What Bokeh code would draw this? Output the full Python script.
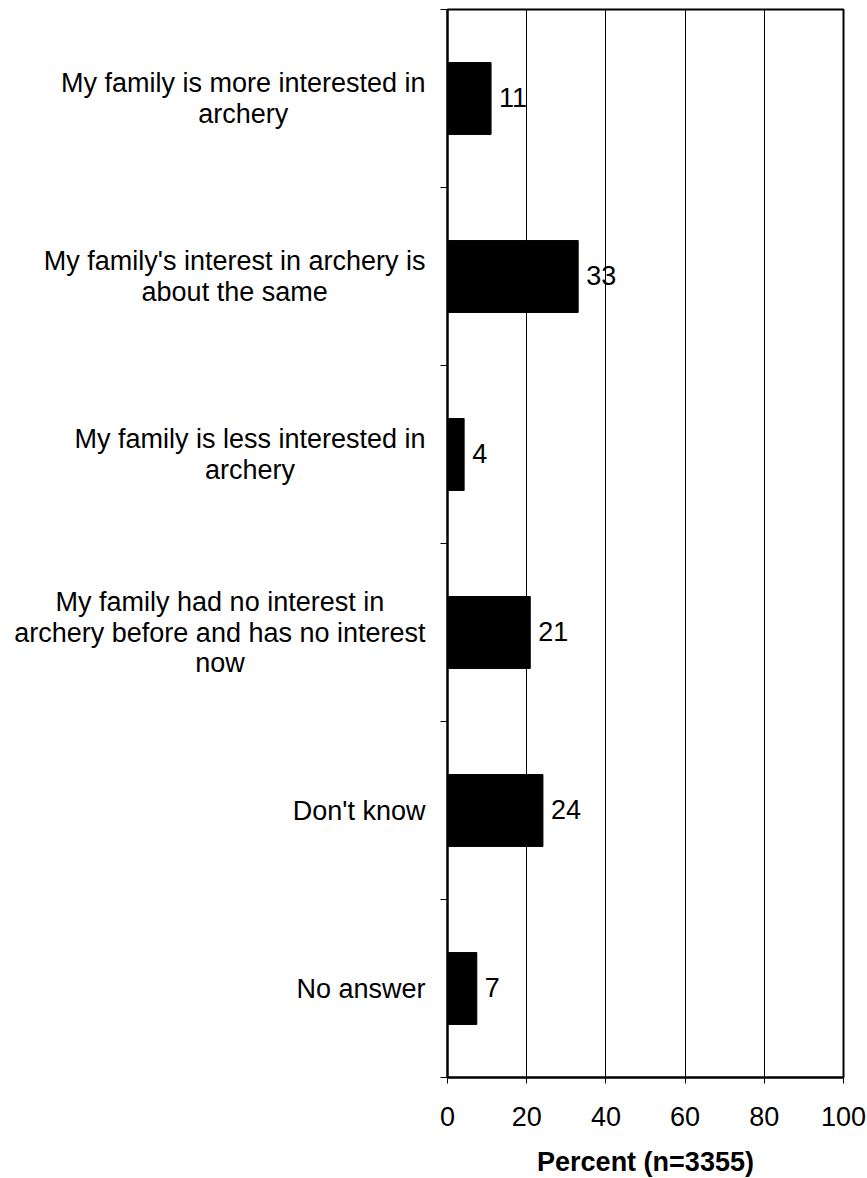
from bokeh.plotting import figure
from bokeh.layouts import row
from bokeh.models import Range1d, FixedTicker, ColumnDataSource
from bokeh.core.properties import value
from bokeh.embed import file_html
from bokeh.resources import INLINE

categories = [
    "My family is more interested in\narchery",
    "My family's interest in archery is\nabout the same",
    "My family is less interested in\narchery",
    "My family had no interest in\narchery before and has no interest\nnow",
    "Don't know",
    "No answer",
]
values = [11.0, 33.0, 4.2, 20.9, 24.1, 7.4]
x_ticks = [0, 20, 40, 60, 80, 100]
x_title = "Percent (n=3355)"

FONT = "Liberation Sans"
FS = 27
# Arial / Liberation Sans advance widths (per 1000 em) for width estimation
W = {" ": 278, "'": 191, "A": 667, "D": 722, "M": 833, "N": 722,
     "a": 556, "b": 556, "c": 500, "d": 556, "e": 556, "f": 278, "g": 556,
     "h": 556, "i": 222, "k": 500, "l": 222, "m": 833, "n": 556, "o": 556,
     "r": 333, "s": 500, "t": 278, "u": 556, "v": 500, "w": 722, "y": 500}

def text_w(s):
    return sum(W.get(c, 556) for c in s) / 1000.0 * FS

n = len(categories)
ypos = [i + 0.5 for i in range(n)]

FRAME_LEFT = 447
TOP = 9
AXIS_W = 14
LW = FRAME_LEFT - AXIS_W
FH = 1068
yr = Range1d(n, 0)

# main chart
p = figure(width=867 - LW, height=1178, output_backend="svg", toolbar_location=None,
           x_range=Range1d(0, 100), y_range=yr,
           frame_width=396, frame_height=FH,
           min_border_left=AXIS_W, min_border_right=24, min_border_top=TOP, min_border_bottom=10)
p.background_fill_color = "white"
p.border_fill_color = "white"
p.outline_line_color = "black"
p.outline_line_width = 2

src = ColumnDataSource(dict(y=ypos, v=values, lab=[str(int(round(v))) for v in values]))
p.hbar(y="y", left=0, right="v", height=0.404, source=src, fill_color="black", line_color="black")
p.text(x="v", y="y", text="lab", source=src, x_offset=8, y_offset=-1, text_align="left",
       text_baseline="middle", text_font_size=f"{FS}px", text_font=value(FONT), text_color="black")

p.ygrid.visible = False
p.xgrid.ticker = FixedTicker(ticks=x_ticks)
p.xgrid.grid_line_color = "black"
p.xgrid.grid_line_width = 1
p.xgrid.grid_line_alpha = 1.0

xa = p.xaxis[0]
xa.ticker = FixedTicker(ticks=x_ticks)
xa.axis_line_color = "black"
xa.axis_line_width = 2
xa.major_tick_out = 6
xa.major_tick_in = 0
xa.major_tick_line_color = "black"
xa.minor_tick_line_color = None
xa.major_label_text_font = FONT
xa.major_label_text_font_size = f"{FS}px"
xa.major_label_text_color = "black"
xa.major_label_standoff = 23
xa.axis_label = x_title
xa.axis_label_text_font = FONT
xa.axis_label_text_font_size = f"{FS}px"
xa.axis_label_text_font_style = "bold"
xa.axis_label_text_color = "black"
xa.axis_label_standoff = 18

ya = p.yaxis[0]
ya.ticker = FixedTicker(ticks=list(range(n + 1)))
ya.axis_line_color = "black"
ya.axis_line_width = 2
ya.major_tick_out = 7
ya.major_tick_in = 0
ya.major_tick_line_color = "black"
ya.minor_tick_line_color = None
ya.major_label_standoff = 0
ya.major_label_text_font_size = "0px"
ya.major_label_overrides = {i: "" for i in range(n + 1)}

# category label panel (same vertical scale), lines centred within each right-aligned block
q = figure(width=LW, height=1178, output_backend="svg", toolbar_location=None,
           x_range=Range1d(0, LW), y_range=yr, frame_width=LW, frame_height=FH,
           min_border_left=0, min_border_right=0, min_border_top=TOP, min_border_bottom=10)
q.axis.visible = False
q.grid.visible = False
q.outline_line_color = None
q.background_fill_color = "white"
q.border_fill_color = "white"

GAP = 22
LH = 30.5
lx, ly, loff, ltxt = [], [], [], []
for yc, cat in zip(ypos, categories):
    lines = cat.split("\n")
    bw = max(text_w(l) for l in lines)
    k = len(lines)
    for j, line in enumerate(lines):
        lx.append(FRAME_LEFT - GAP - bw / 2.0)
        ly.append(yc)
        loff.append((j - (k - 1) / 2.0) * LH)
        ltxt.append(line)
lsrc = ColumnDataSource(dict(x=lx, y=ly, off=loff, t=ltxt))
q.text(x="x", y="y", y_offset="off", text="t", source=lsrc, text_align="center",
       text_baseline="middle", text_font_size=f"{FS}px", text_font=value(FONT), text_color="black")

layout = row(q, p, spacing=0)
open("out.html", "w").write(file_html(layout, INLINE))
